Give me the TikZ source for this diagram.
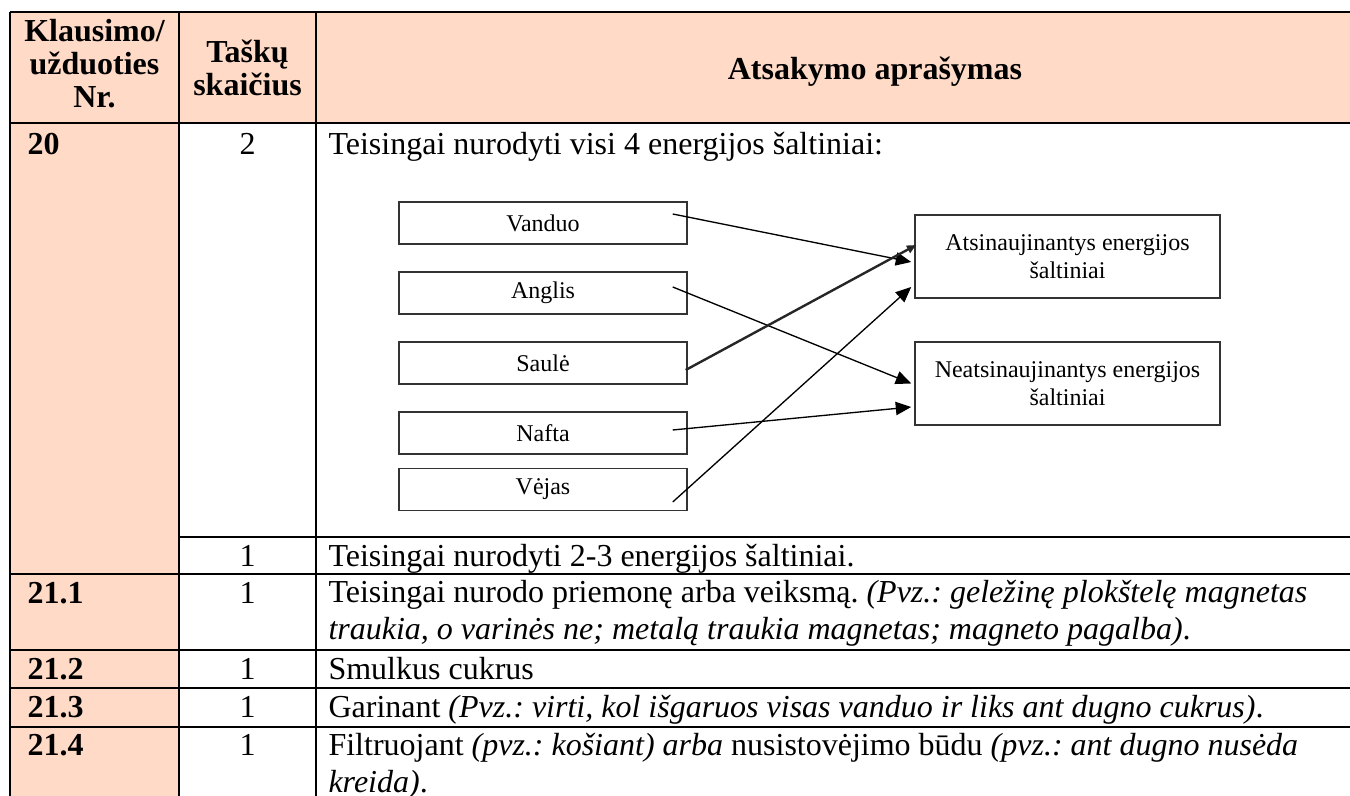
\documentclass[tikz,border=0pt]{standalone}
\usepackage{fontspec}
\setmainfont{Liberation Serif}
\usetikzlibrary{arrows.meta,calc}
\definecolor{peach}{RGB}{255,218,199}
\frenchspacing

\begin{document}
\begin{tikzpicture}[
    x=0.375pt, y=-0.375pt,
    every node/.style={inner sep=0pt, font=\fontsize{12}{13.9}\selectfont},
    grid/.style={line width=1.1pt},
    head/.style={align=center, font=\fontsize{12}{12.4}\selectfont\bfseries},
    qnum/.style={anchor=base west, font=\fontsize{12}{13.9}\selectfont\bfseries},
    pts/.style={anchor=base},
    answer/.style={anchor=base west, align=left},
    source/.style={rectangle, draw=black!80, line width=0.55pt, minimum width=108pt, minimum height=15.75pt, font=\fontsize{9}{10.5}\selectfont},
    target/.style={rectangle, draw=black!80, line width=0.55pt, minimum width=114.4pt, minimum height=31.1pt, align=center, font=\fontsize{9}{10.5}\selectfont},
    link/.style={-{Triangle[length=5.8pt, width=5pt]}, line width=0.5pt}
]
    \useasboundingbox (0,0) rectangle (1350,796);

    % Shading
    \fill[peach] (10,12) rectangle (1350,123);
    \fill[peach] (10,123) rectangle (179,796);

    % Table rules
    \draw[grid] (10,12) -- (1350,12);
    \draw[grid] (10,123) -- (1350,123);
    \draw[grid] (179,537) -- (1350,537);
    \foreach \y in {574,650,688,727}
        \draw[grid] (10,\y) -- (1350,\y);
    \foreach \x in {10,179,316}
        \draw[grid] (\x,12) -- (\x,796);

    % Header
    \node[head] (klausimo) at (94.5,64) {Klausimo/\\užduoties\\Nr.};
    \node[head] (taskai) at (247.5,68) {Taškų\\skaičius};
    \node[head, anchor=base] (aprasymas) at (875,80) {Atsakymo aprašymas};

    % Rows (base = last line)
    \node[qnum] (q20) at (27,155) {20};
    \node[pts] (p20) at (247.5,155) {2};
    \node[answer] (a20) at (328,155) {Teisingai nurodyti visi 4 energijos šaltiniai:};
    \node[pts] (p20b) at (247.5,567) {1};
    \node[answer] (a20b) at (328,567) {Teisingai nurodyti 2-3 energijos šaltiniai.};

    \node[qnum] (q211) at (27,604) {21.1};
    \node[pts] (p211) at (247.5,604) {1};
    \node[answer] (a211) at (328,640) {Teisingai nurodo priemonę arba veiksmą. \textit{(Pvz.: geležinę plokštelę magnetas}\\\textit{traukia, o varinės ne; metalą traukia magnetas; magneto pagalba)}.};

    \node[qnum] (q212) at (27,680) {21.2};
    \node[pts] (p212) at (247.5,680) {1};
    \node[answer] (a212) at (328,680) {Smulkus cukrus};

    \node[qnum] (q213) at (27,718) {21.3};
    \node[pts] (p213) at (247.5,718) {1};
    \node[answer] (a213) at (328,718) {Garinant \textit{(Pvz.: virti, kol išgaruos visas vanduo ir liks ant dugno cukrus)}.};

    \node[qnum] (q214) at (27,756) {21.4};
    \node[pts] (p214) at (247.5,756) {1};
    \node[answer] (a214) at (328,793) {Filtruojant \textit{(pvz.: košiant) arba} nusistovėjimo būdu \textit{(pvz.: ant dugno nusėda}\\\textit{kreida)}.};

    % Energy sources
    \node[source] (vanduo) at (543,223) {Vanduo};
    \node[source] (anglis) at (543,293) {Anglis};
    \node[source] (saule) at (543,363) {Saulė};
    \node[source] (nafta) at (543,433) {Nafta};
    \node[source] (vejas) at (543,489.5) {Vėjas};

    % Groups
    \node[target] (atsin) at (1067.5,256.5) {Atsinaujinantys energijos\\šaltiniai};
    \node[target] (neatsin) at (1067.5,383.5) {Neatsinaujinantys energijos\\šaltiniai};

    % Connections
    \draw[link] ($(vanduo.east)+(-15,-9)$) -- ($(atsin.west)+(-3,5.5)$);
    \draw[link] ($(anglis.east)+(-15,-6)$) -- ($(neatsin.west)+(-3,0)$);
    \draw[line width=0.9pt, black!85, -{Triangle[length=3.5pt, width=3pt]}] ($(saule.east)+(-2,7)$) -- ($(atsin.west)+(2,-11.5)$);
    \draw[link] ($(nafta.east)+(-15,-3)$) -- ($(neatsin.west)+(-3,23.5)$);
    \draw[link] ($(vejas.east)+(-15,12.5)$) -- ($(atsin.west)+(-3,30.5)$);
\end{tikzpicture}
\end{document}
